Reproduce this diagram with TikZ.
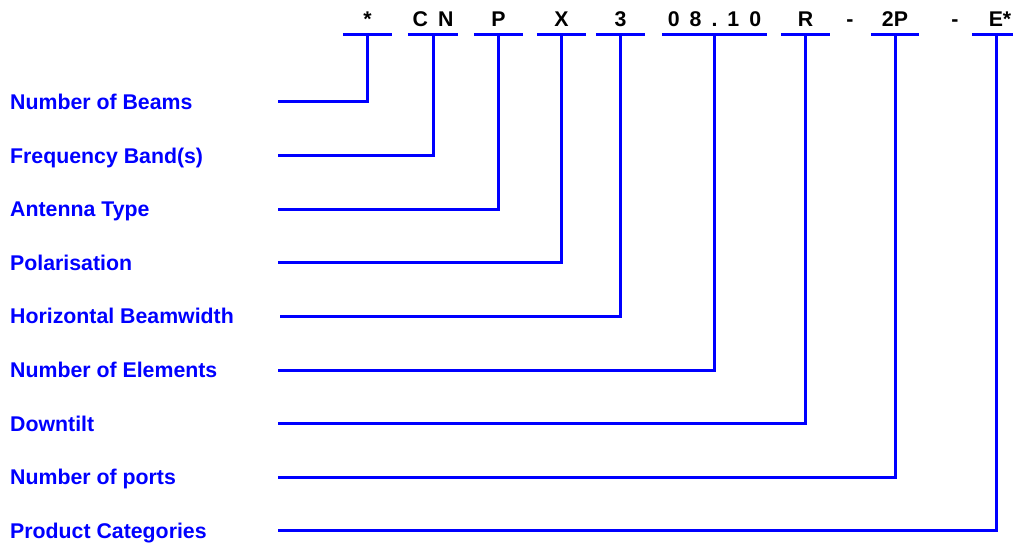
\documentclass[tikz,border=0pt]{standalone}
\usepackage{fontspec}
\setmainfont{Liberation Sans}
\usetikzlibrary{positioning}
\newcommand{\codegap}{\hspace{0.47em}}

\begin{document}
\begin{tikzpicture}[x=1pt,y=-1pt,
 lbl/.style={font=\fontsize{21.3}{25}\selectfont\bfseries,text=blue,anchor=base west,inner sep=0},
 code/.style={font=\fontsize{21.3}{25}\selectfont\bfseries,inner sep=0,anchor=south,text depth=8pt,minimum width=49pt},
 ul/.style={blue,line width=3pt},
 ln/.style={blue,line width=3pt}]
\useasboundingbox (0,0) rectangle (1013,543);
% code characters on top
\node[code] (cbeams) at (367.5,35) {*};
\node[code,minimum width=50pt] (cband) at (433,35) {C\codegap N};
\node[code] (ctype) at (498.5,35) {P};
\node[code] (cpol) at (561.5,35) {X};
\node[code] (chbw) at (620.5,35) {3};
\node[code,minimum width=105pt] (celem) at (714.5,35) {0\codegap 8\codegap .\codegap 1\codegap 0};
\node[code] (ctilt) at (805.5,35) {R};
\node[code,minimum width=0pt] (cdash1) at (850,35) {-};
\node[code,minimum width=48pt] (cports) at (895,35) {2P};
\node[code,minimum width=0pt] (cdash2) at (955,35) {-};
\node[code] (ccat) at (996.5,35) {\hspace{7pt}E*};
% underlines
\foreach \c in {cbeams,cband,ctype,cpol,chbw,celem,ctilt,cports,ccat}
  \draw[ul] (\c.south west) -- (\c.south east);
% labels
\node[lbl] (lbeams) at (10,109.5) {Number of Beams};
\node[lbl] (lband) at (10,163.1) {Frequency Band(s)};
\node[lbl] (ltype) at (10,216.7) {Antenna Type};
\node[lbl] (lpol) at (10,270.3) {Polarisation};
\node[lbl] (lhbw) at (10,323.9) {Horizontal Beamwidth};
\node[lbl] (lelem) at (10,377.5) {Number of Elements};
\node[lbl] (ltilt) at (10,431.1) {Downtilt};
\node[lbl] (lports) at (10,484.7) {Number of ports};
\node[lbl] (lcat) at (10,538.3) {Product Categories};
% line starts
\coordinate (sbeams) at (278,102);
\coordinate (sband) at (278,155.6);
\coordinate (stype) at (278,209.2);
\coordinate (spol) at (278,262.8);
\coordinate (shbw) at (280,316.4);
\coordinate (selem) at (278,370);
\coordinate (stilt) at (278,423.6);
\coordinate (sports) at (278,477.2);
\coordinate (scat) at (278,530.8);
% connectors
\draw[ln] (sbeams) -| (cbeams.south);
\draw[ln] (sband) -| (cband.south);
\draw[ln] (stype) -| (ctype.south);
\draw[ln] (spol) -| (cpol.south);
\draw[ln] (shbw) -| (chbw.south);
\draw[ln] (selem) -| (celem.south);
\draw[ln] (stilt) -| (ctilt.south);
\draw[ln] (sports) -| (cports.south);
\draw[ln] (scat) -| (ccat.south);
\end{tikzpicture}
\end{document}
